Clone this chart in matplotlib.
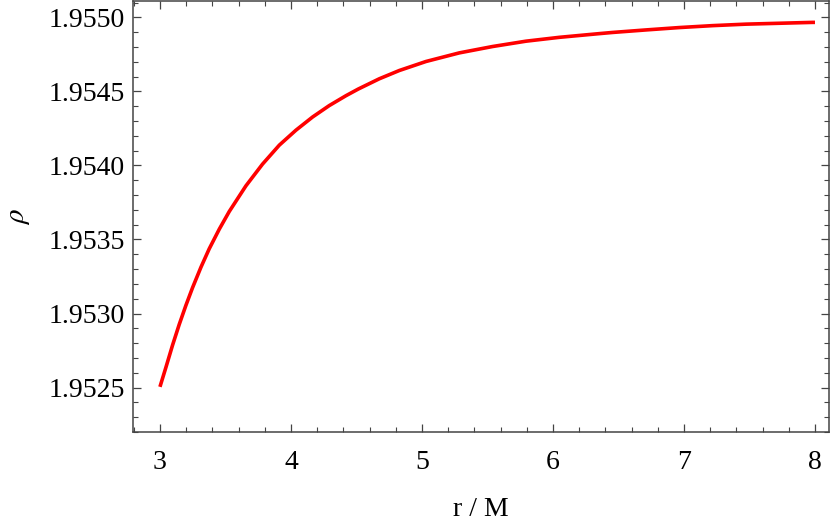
"""rho vs r/M curve, Mathematica-style frame."""

import matplotlib
matplotlib.use("Agg")
import matplotlib.pyplot as plt
from matplotlib.ticker import MultipleLocator, FormatStrFormatter

# values
r_vals = [3.0, 3.046, 3.096, 3.147, 3.198, 3.249, 3.313, 3.376, 3.453, 3.529,
          3.656, 3.783, 3.911, 4.038, 4.165, 4.292, 4.42, 4.514, 4.674, 4.827,
          5.031, 5.285, 5.539, 5.794, 6.048, 6.353, 6.455, 6.71, 6.964, 7.218,
          7.473, 7.727, 7.982, 8.0]
rho_vals = [1.952505, 1.952638, 1.952786, 1.952926, 1.953055, 1.953175,
            1.953313, 1.953437, 1.953570, 1.953689, 1.953862, 1.954009,
            1.954137, 1.954238, 1.954327, 1.954404, 1.954471, 1.954516,
            1.954585, 1.954641, 1.954702, 1.954760, 1.954803, 1.954839,
            1.954865, 1.954890, 1.954898, 1.954915, 1.954931, 1.954944,
            1.954954, 1.954960, 1.954966, 1.954966]

x_label = "r / M"
y_label = r"$\rho$"

plt.rcParams["font.family"] = ["Liberation Serif", "DejaVu Serif"]
plt.rcParams["mathtext.fontset"] = "stix"

fig = plt.figure(figsize=(8.3, 5.25), dpi=100)
ax = fig.add_axes([0.1602, 0.1771, 0.8386, 0.8209])

ax.plot(r_vals, rho_vals, color="#ff0000", lw=2.6, solid_capstyle="butt")

ax.set_xlim(2.794, 8.107)
ax.set_ylim(1.95220, 1.95511)

ax.xaxis.set_major_locator(MultipleLocator(1))
ax.xaxis.set_minor_locator(MultipleLocator(0.2))
ax.yaxis.set_major_locator(MultipleLocator(0.0005))
ax.yaxis.set_minor_locator(MultipleLocator(0.0001))
ax.yaxis.set_major_formatter(FormatStrFormatter("%.4f"))
ax.xaxis.set_major_formatter(FormatStrFormatter("%d"))

for s in ax.spines.values():
    s.set_color("#444444")
    s.set_linewidth(1.1)

ax.tick_params(which="both", direction="in", top=True, right=True,
               color="#444444", labelsize=20)
ax.tick_params(which="major", length=6, width=0.9)
ax.tick_params(which="minor", length=3.5, width=0.8)
ax.tick_params(axis="y", which="major", pad=6)
ax.tick_params(axis="x", which="major", pad=13)

ax.set_xlabel(x_label, fontsize=20, labelpad=16)
ax.set_ylabel(y_label, fontsize=21, labelpad=12)

fig.savefig("out.png", dpi=100)
plt.close(fig)
